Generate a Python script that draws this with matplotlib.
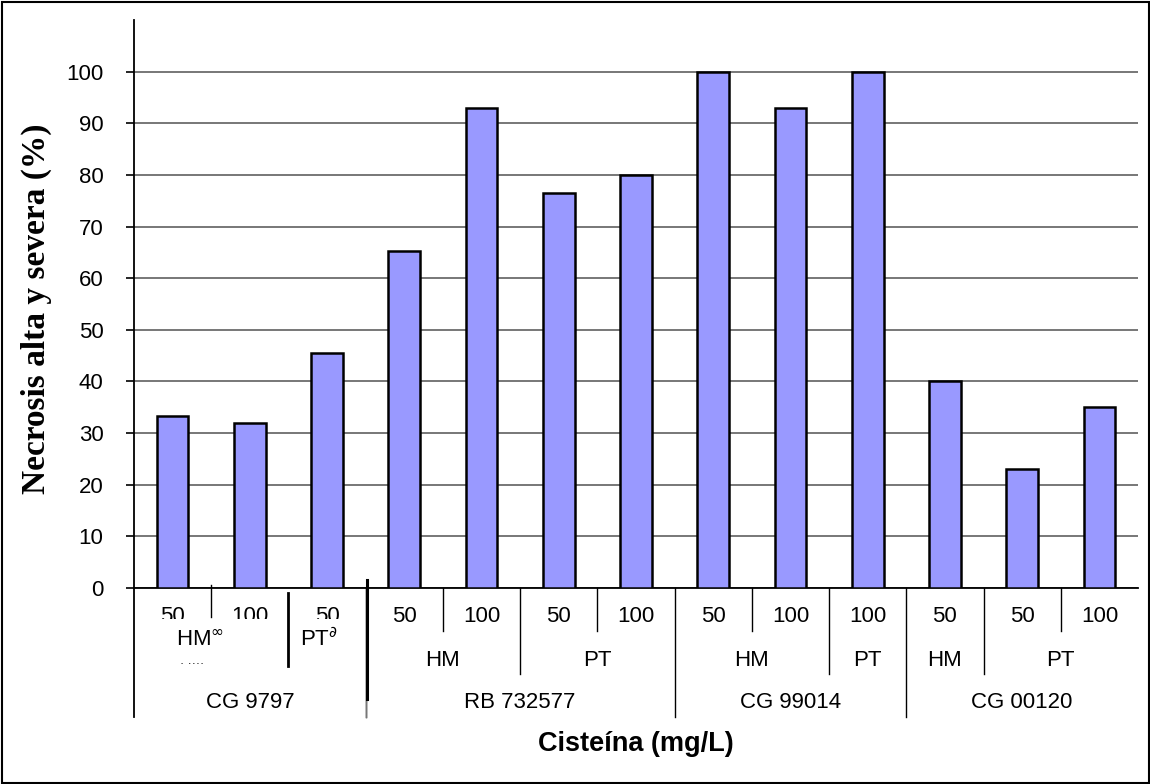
import numpy as np
import matplotlib.pyplot as plt
from matplotlib.patches import Rectangle
from matplotlib.transforms import Bbox, blended_transform_factory

# ----------------------------
# Data
# ----------------------------
doses = ["50", "100", "50", "50", "100", "50", "100", "50", "100", "100", "50", "50", "100"]
necrosis = [33.3, 32.0, 45.5, 65.2, 93.0, 76.5, 80.0, 100.0, 93.0, 100.0, 40.0, 23.0, 35.0]

# medium groups: (label, first index, last index)
medium_groups = [("HM", 0, 1), ("PT", 2, 2), ("HM", 3, 4), ("PT", 5, 6),
                 ("HM", 7, 8), ("PT", 9, 9), ("HM", 10, 10), ("PT", 11, 12)]
genotype_groups = [("CG 9797", 0, 2), ("RB 732577", 3, 6),
                   ("CG 99014", 7, 9), ("CG 00120", 10, 12)]

W, H = 1150, 784
plt.rcParams['font.family'] = ['Liberation Sans', 'DejaVu Sans']
plt.rcParams['mathtext.fontset'] = 'dejavusans'


def fy(ypix):
    """figure fraction from pixel row (top origin)"""
    return 1 - ypix / H


# ----------------------------
# Figure & bars
# ----------------------------
fig = plt.figure(figsize=(W / 100, H / 100), dpi=100)
ax = fig.add_axes([134 / W, fy(588), (1138 - 134) / W, (588 - 20) / H])

x = np.arange(len(necrosis))
ax.bar(x, necrosis, width=0.41, color='#9999ff', edgecolor='black', linewidth=1.8, zorder=3)

ax.set_xlim(-0.5, len(necrosis) - 0.5)
ax.set_ylim(0, 110)
ax.set_yticks(np.arange(0, 101, 10))
ax.yaxis.grid(True, color='#777777', linewidth=1.4, zorder=0)
ax.set_xticks([])
ax.tick_params(axis='y', direction='out', length=6, width=1.2, pad=16, labelsize=16)
for s in ['top', 'right']:
    ax.spines[s].set_visible(False)
ax.spines['left'].set_linewidth(1.3)
ax.spines['bottom'].set_linewidth(1.3)

# ----------------------------
# Category table below axis
# ----------------------------
tr = blended_transform_factory(ax.transData, fig.transFigure)
row1_y, row2_y, row3_y = fy(617), fy(660), fy(703)

# separators: level 1 inside medium groups, level 2 between media, level 3 between genotypes
geno_edges = {g[1] - 0.5 for g in genotype_groups}
medium_edges = {m[1] - 0.5 for m in medium_groups} - geno_edges
for b in np.arange(-0.5, len(necrosis) - 0.5):
    if b < 2.5:
        continue  # CG 9797 block drawn separately below
    if b in geno_edges:
        y_end = 717
    elif b in medium_edges:
        y_end = 674
    else:
        y_end = 631
    ax.plot([b, b], [fy(588), fy(y_end)], color='black', lw=1.0, transform=tr, clip_on=False)

# left edge of table
ax.plot([-0.5, -0.5], [fy(588), fy(717)], color='black', lw=1.3, transform=tr, clip_on=False)
# garbled CG 9797 block as in the original
ax.plot([0.5, 0.5], [fy(585), fy(617)], color='black', lw=1.0, transform=tr, clip_on=False)
ax.plot([1.5, 1.5], [fy(593), fy(666)], color='black', lw=2.0, transform=tr, clip_on=False)
ax.plot([2.5, 2.5], [fy(588), fy(717)], color='#777777', lw=1.0, transform=tr, clip_on=False)
ax.plot([2.52, 2.52], [fy(580), fy(699)], color='black', lw=2.2, transform=tr, clip_on=False)

clip = Bbox([[0, fy(619) * H], [W, fy(600) * H]])
for i, d in enumerate(doses):
    t = ax.text(i, row1_y, d, ha='center', va='center', fontsize=16, transform=tr)
    if i <= 2:
        t.set_clip_box(clip)
        t.set_clip_on(True)

for label, a, b in medium_groups:
    if a <= 2:
        continue
    ax.text((a + b) / 2, row2_y, label, ha='center', va='center', fontsize=16, transform=tr)
ax.text(0.35, fy(640), r"HM$^{\infty}$", ha='center', va='center', fontsize=16, transform=tr)
ax.text(1.9, fy(640), r"PT$^{\partial}$", ha='center', va='center', fontsize=16, transform=tr)
ax.text(0.25, fy(664), "· ····", ha='center', va='center', fontsize=9, transform=tr)

for label, a, b in genotype_groups:
    ax.text((a + b) / 2, row3_y, label, ha='center', va='center', fontsize=16, transform=tr)

# ----------------------------
# Axis titles & frame
# ----------------------------
fig.text(636 / W, fy(744), "Cisteína (mg/L)", ha='center', va='center',
         fontsize=19.5, fontweight='bold')
fig.text(36 / W, fy(309), "Necrosis alta y severa (%)", ha='center', va='center',
         rotation=90, fontsize=24, fontweight='bold', family='Liberation Serif')

fig.add_artist(Rectangle((1.5 / W, 1.5 / H), (W - 3) / W, (H - 3) / H,
                         transform=fig.transFigure, fill=False, edgecolor='black', linewidth=1.5))

fig.savefig('out.png', dpi=100)
